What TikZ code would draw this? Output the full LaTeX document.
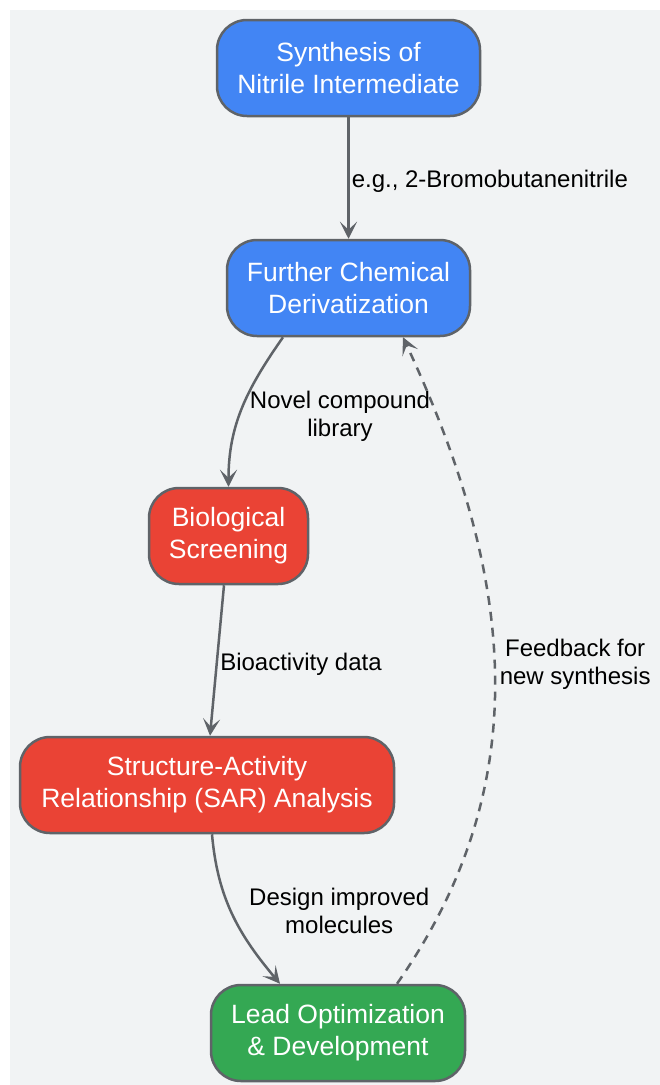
\documentclass[tikz,border=0pt]{standalone}
\usepackage{fontspec}
\setmainfont{Liberation Sans}
\usetikzlibrary{arrows.meta}
\definecolor{bgray}{HTML}{F1F3F4}
\definecolor{edgegray}{HTML}{5F6368}
\definecolor{gblue}{HTML}{4285F4}
\definecolor{gred}{HTML}{EA4335}
\definecolor{ggreen}{HTML}{34A853}
\tikzset{
  stepbox/.style={draw=edgegray, line width=2.5pt, rounded corners=30pt,
    minimum height=96pt, inner sep=0pt, align=center, text=white,
    font=\fontsize{26.5}{32}\selectfont},
  flow/.style={draw=edgegray, line width=2.5pt,
    -{Stealth[length=17pt,width=17pt,inset=8pt]}},
  lbl/.style={align=center, text=black, font=\fontsize{24}{28}\selectfont}
}
\begin{document}
\begin{tikzpicture}[x=1pt, y=1pt]
  \useasboundingbox (0,0) rectangle (660,-1085);
  \fill[bgray] (10,-10) rectangle (660,-1085);
  \foreach \nm/\x/\y/\w/\col/\txt in {
    synth/348.5/68/263/gblue/{Synthesis of\\Nitrile Intermediate},
    deriv/348.5/288/243/gblue/{Further Chemical\\Derivatization},
    bio/228.5/536/159/gred/{Biological\\Screening},
    sar/207/785/374/gred/{Structure-Activity\\Relationship (SAR) Analysis},
    lead/338/1033/254/ggreen/{Lead Optimization\\\& Development}} {
    \node[stepbox, fill=\col, minimum width=\w pt] (\nm) at (\x,-\y) {\txt};
  }
  \draw[flow] (synth) -- node[right, lbl, inner sep=2pt, yshift=-3pt] {e.g., 2-Bromobutanenitrile} (deriv);
  \draw[flow] ([xshift=-65.5pt]deriv.south) to[out=235, in=90]
    node[right, lbl, xshift=3pt, yshift=-9pt] {Novel compound\\library} (bio.north);
  \draw[flow] ([xshift=-4.5pt]bio.south) --
    node[right, lbl, inner sep=2pt, yshift=-4pt] {Bioactivity data} ([xshift=3pt]sar.north);
  \draw[flow] ([xshift=5pt]sar.south) to[out=-85, in=130]
    node[right, lbl, xshift=12pt, yshift=4pt] {Design improved\\molecules} ([xshift=-58pt]lead.north);
  \draw[flow, dash pattern=on 9pt off 7pt] ([xshift=59pt]lead.north) to[out=55, in=-65]
    node[right, lbl, inner sep=4pt, yshift=4pt] {Feedback for\\new synthesis} ([xshift=54.5pt]deriv.south);
\end{tikzpicture}
\end{document}
